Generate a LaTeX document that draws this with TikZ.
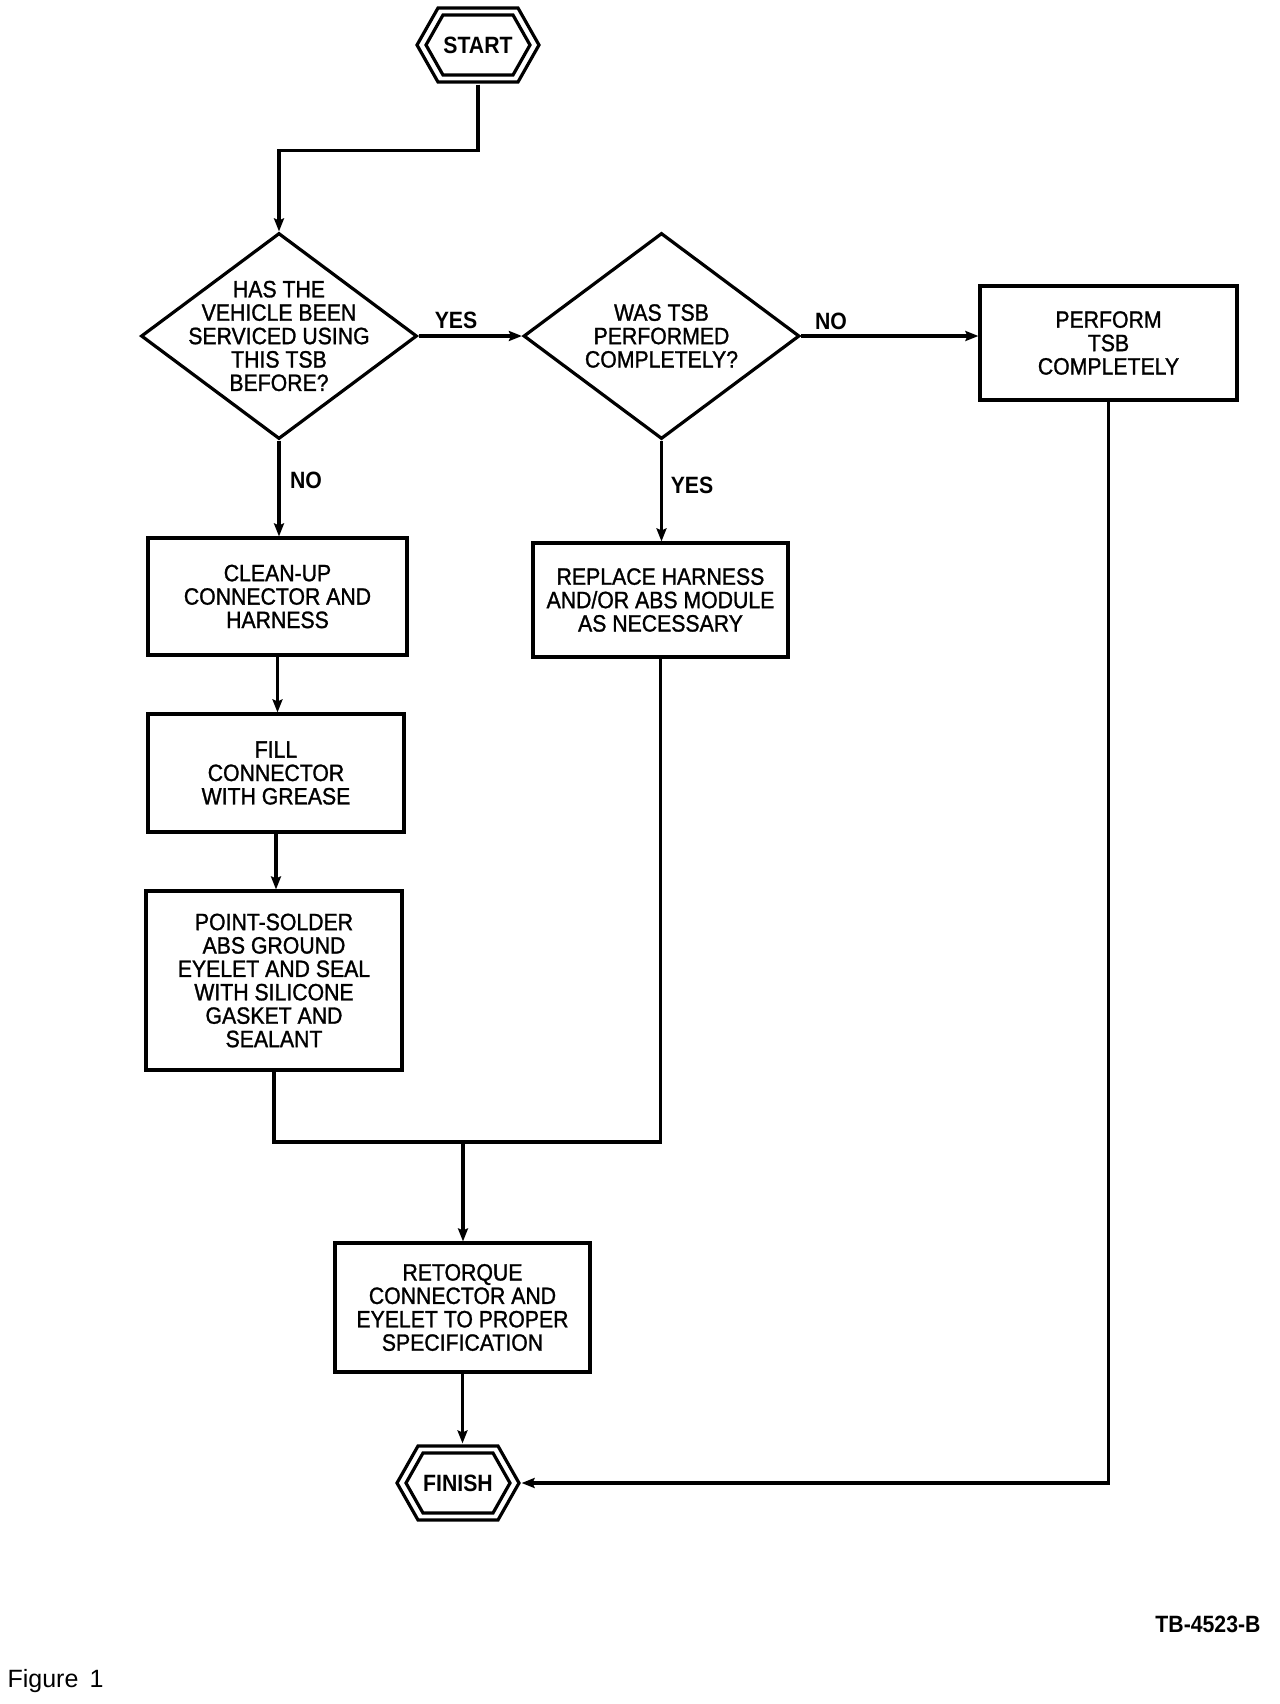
\documentclass[tikz,border=0pt]{standalone}
\usepackage{fontspec}
\setmainfont{Liberation Sans}[FakeStretch=0.9]
\newfontfamily\heavy{Liberation Sans}[FakeStretch=0.9, FakeBold=1.2]
\newfontfamily\figfont{Liberation Sans}
\usetikzlibrary{arrows.meta,calc,shapes.geometric}
\begin{document}
\begin{tikzpicture}[x=0.5pt,y=-0.5pt,
  line width=1.6pt,
  txt/.style={font=\heavy\fontsize{11.8}{11.7}\selectfont, align=center, inner sep=0pt},
  lbl/.style={font=\fontsize{11.8}{11.7}\selectfont\bfseries, inner sep=0pt},
  box/.style={draw, txt},
  dia/.style={draw, diamond, inner sep=0pt, minimum width=138pt, minimum height=103pt},
  arr/.style={-{Stealth[length=6.5pt,width=5pt,inset=1pt]}},
  hexo/.style={line width=1.6pt},
]
\useasboundingbox[fill=white] (0,0) rectangle (1280,1704);

% START
\node[lbl, minimum width=62pt, minimum height=38pt] (start) at (478,45) {START};
\draw[hexo] ($(start.center)+(-61,0)$) -- ++(21,-37) -- ++(80,0) -- ++(21,37) -- ++(-21,37) -- ++(-80,0) -- cycle;
\draw[hexo] ($(start.center)+(-52,0)$) -- ++(17,-30) -- ++(70,0) -- ++(17,30) -- ++(-17,30) -- ++(-70,0) -- cycle;

% decisions
\node[dia] (d1) at (279,336) {};
\node[txt] (d1t) at (d1) {HAS THE\\VEHICLE BEEN\\SERVICED USING\\THIS TSB\\BEFORE?};
\node[dia] (d2) at (661.5,336) {};
\node[txt] (d2t) at (d2) {WAS TSB\\PERFORMED\\COMPLETELY?};

% boxes
\node[box, minimum width=128.5pt, minimum height=57pt] (perform) at (1108.5,343) {PERFORM\\TSB\\COMPLETELY};
\node[box, minimum width=129.5pt, minimum height=58.5pt] (clean) at (277.5,596.5) {CLEAN-UP\\CONNECTOR AND\\HARNESS};
\node[box, minimum width=128pt, minimum height=59pt] (fill) at (276,773) {FILL\\CONNECTOR\\WITH GREASE};
\node[box, minimum width=128pt, minimum height=89.5pt] (point) at (274,980.5) {POINT-SOLDER\\ABS GROUND\\EYELET AND SEAL\\WITH SILICONE\\GASKET AND\\SEALANT};
\node[box, minimum width=127.5pt, minimum height=57pt] (replace) at (660.5,600) {REPLACE HARNESS\\AND/OR ABS MODULE\\AS NECESSARY};
\node[box, minimum width=127.5pt, minimum height=64.5pt] (retorque) at (462.5,1307.5) {RETORQUE\\CONNECTOR AND\\EYELET TO PROPER\\SPECIFICATION};

% FINISH
\node[lbl, minimum width=62pt, minimum height=38pt] (finish) at (458,1483) {FINISH};
\draw[hexo] ($(finish.center)+(-61,0)$) -- ++(21,-37) -- ++(80,0) -- ++(21,37) -- ++(-21,37) -- ++(-80,0) -- cycle;
\draw[hexo] ($(finish.center)+(-52,0)$) -- ++(17,-30) -- ++(70,0) -- ++(17,30) -- ++(-17,30) -- ++(-70,0) -- cycle;

% connectors
\coordinate (j0) at ($(d1.north)+(0,-81)$);
\draw[arr] (start.south) |- (j0) -- (d1.north);
\draw[arr] (d1.east) -- (d2.west);
\draw[arr] (d2.east) -- (d2.east -| perform.west);
\draw[arr] (d1.south) -- (d1.south |- clean.north);
\draw[arr] (clean.south) -- (clean.south |- fill.north);
\draw[arr] (fill.south) -- (fill.south |- point.north);
\draw[arr] (d2.south) -- (d2.south |- replace.north);
\coordinate (m) at (463,1142);
\draw (point.south) |- (m);
\draw (replace.south) |- (m);
\draw[arr] (m) -- (m |- retorque.north);
\draw[arr] (retorque.south) -- (retorque.south |- finish.north);
\draw[arr] (perform.south) |- (finish.east);

% labels
\node[lbl] (yes1) at (456,320) {YES};
\node[lbl] (no1) at (831,321) {NO};
\node[lbl] (no2) at (306,480) {NO};
\node[lbl] (yes2) at (692,485) {YES};
\node[lbl] (tb) at (1208,1624) {TB-4523-B};
\node[anchor=west, inner sep=0pt, font=\figfont\fontsize{12.5}{14}\selectfont] (fig) at (6,1681) {Figure\ \,1};
\end{tikzpicture}
\end{document}
